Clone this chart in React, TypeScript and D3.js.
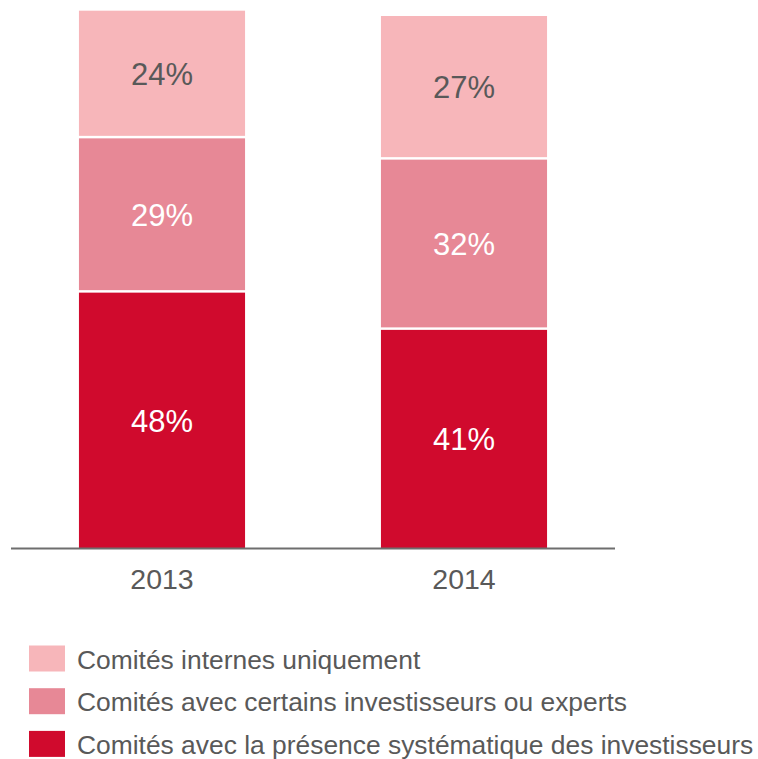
import React from "react";
import * as d3 from "d3";

const years = ["2013", "2014"];
const seriesNames = [
  "Comités avec la présence systématique des investisseurs",
  "Comités avec certains investisseurs ou experts",
  "Comités internes uniquement",
];
const systematique = [48, 41];
const certains = [29, 32];
const internes = [24, 27];
const colors = ["#D00A2D", "#E78896", "#F7B6BA"];
const labelColors = ["#FFFFFF", "#FFFFFF", "#595959"];
const legendOrder = [2, 1, 0];

export default function App() {
  const W = 758, H = 759;
  const x = d3.scaleBand<string>().domain(years).range([11, 615]).paddingInner(0.45).paddingOuter(0.225);
  const y = d3.scaleLinear().domain([0, 100]).range([548, 16]);
  const rows = years.map((yr, i) => ({ year: yr, s0: systematique[i], s1: certains[i], s2: internes[i] }));
  const stack = d3.stack<any>().keys(["s0", "s1", "s2"]);
  const series = stack(rows);
  const gap = 2.5;
  const font = "'Liberation Sans', Arial, Helvetica, sans-serif";
  return (
    <svg width={W} height={H} style={{ position: "absolute", left: 0, top: 0, background: "#fff" }} fontFamily={font}>
      {series.map((s, si) => (
        <g key={si}>
          {s.map((d, i) => {
            const x0 = x(years[i])!;
            const top = y(d[1]);
            const bottom = y(d[0]) - (si > 0 ? gap : 0);
            const val = d[1] - d[0];
            return (
              <g key={i}>
                <rect x={x0} y={top} width={x.bandwidth()} height={bottom - top} fill={colors[si]} />
                <text x={x0 + x.bandwidth() / 2} y={(top + bottom) / 2 + 1} textAnchor="middle" dominantBaseline="central" fontSize={31} fill={labelColors[si]}>
                  {val}%
                </text>
              </g>
            );
          })}
        </g>
      ))}
      <line x1={x.range()[0]} x2={x.range()[1]} y1={y(0) + 0.5} y2={y(0) + 0.5} stroke="#6E6E6E" strokeWidth={2.2} />
      {years.map((yr) => (
        <text key={yr} x={x(yr)! + x.bandwidth() / 2} y={589} textAnchor="middle" fontSize={28.5} fill="#595959">
          {yr}
        </text>
      ))}
      {legendOrder.map((si, k) => {
        const cy = 658.5 + k * 42.7;
        return (
          <g key={si}>
            <rect x={29} y={cy - 13} width={36} height={26} fill={colors[si]} />
            <text x={77} y={cy + 1} dominantBaseline="central" fontSize={26.4} fill="#595959">
              {seriesNames[si]}
            </text>
          </g>
        );
      })}
    </svg>
  );
}
